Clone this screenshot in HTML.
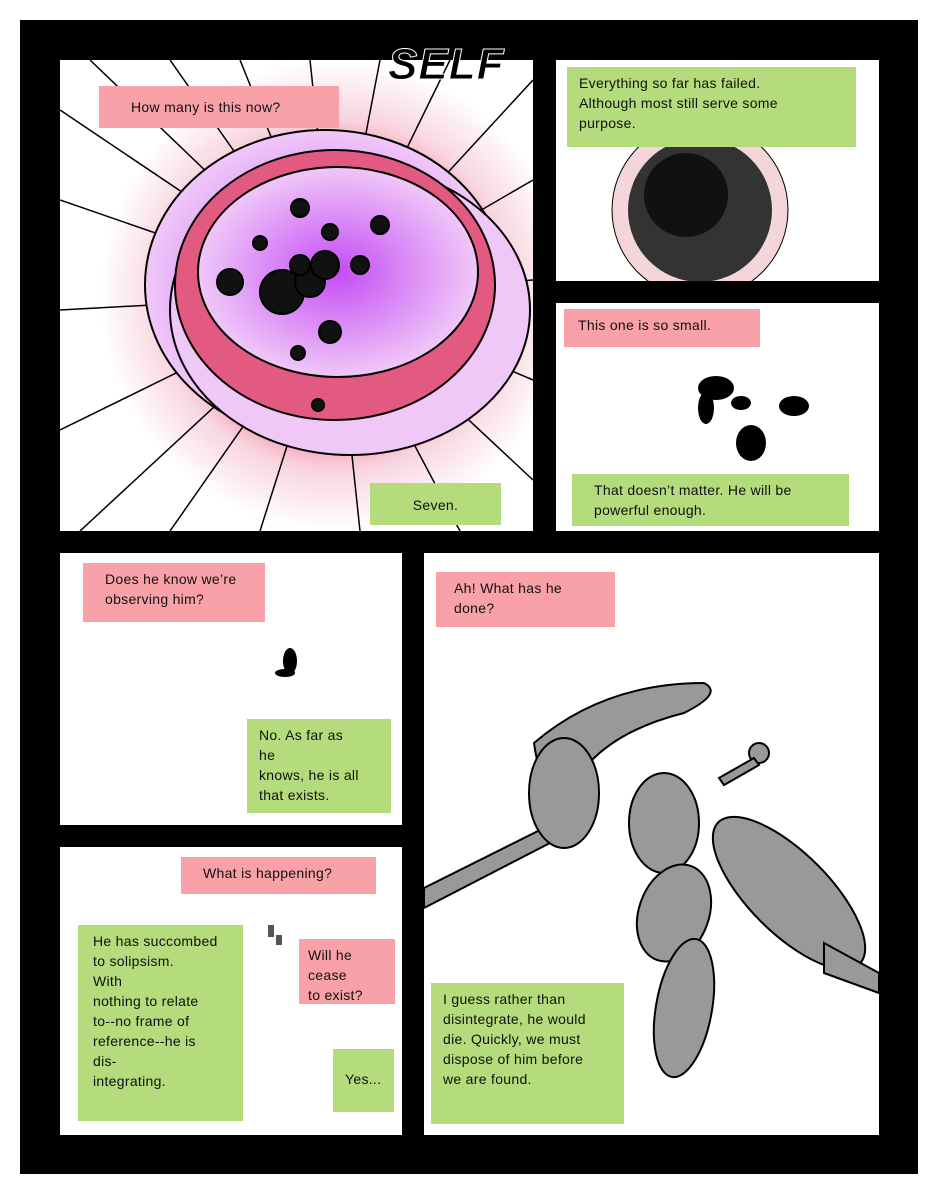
<!DOCTYPE html>
<html><head><meta charset="utf-8"><style>
body{margin:0;width:940px;height:1196px;background:#fff;position:relative;overflow:hidden;font-family:"Liberation Sans",sans-serif}
.frame{position:absolute;left:20px;top:20px;width:898px;height:1154px;background:#000}
.p{position:absolute;background:#fff;overflow:hidden}
.c{position:absolute;font-size:14px;line-height:20px;color:#111;padding:6px 12px;box-sizing:border-box;white-space:nowrap;letter-spacing:0.3px}
.pk{background:#f9a1a9}.gr{background:#b4db7c}
</style></head><body>
<div class="frame"></div>
<div class="p" style="left:60px;top:60px;width:473px;height:471px">
<svg width="473" height="471">
<defs><radialGradient id="g" cx="50%" cy="50%" r="50%">
<stop offset="0" stop-color="#d44cf0"/><stop offset="0.45" stop-color="#e06ae8"/><stop offset="0.6" stop-color="#e8507a"/><stop offset="0.75" stop-color="#f4b8c8"/><stop offset="1" stop-color="#fff"/></radialGradient>
<radialGradient id="g2" cx="50%" cy="50%" r="50%"><stop offset="0" stop-color="#c44cf4"/><stop offset="1" stop-color="#f0c8f8"/></radialGradient></defs>
<circle cx="275" cy="235" r="235" fill="url(#g)" opacity="0.6"/>
<g stroke="#000" stroke-width="1.5">
<line x1="275" y1="235" x2="30" y2="0"/><line x1="275" y1="235" x2="110" y2="0"/><line x1="275" y1="235" x2="180" y2="0"/><line x1="275" y1="235" x2="250" y2="0"/><line x1="275" y1="235" x2="320" y2="0"/><line x1="275" y1="235" x2="390" y2="0"/><line x1="275" y1="235" x2="473" y2="20"/><line x1="275" y1="235" x2="473" y2="120"/><line x1="275" y1="235" x2="473" y2="220"/><line x1="275" y1="235" x2="473" y2="320"/><line x1="275" y1="235" x2="473" y2="420"/><line x1="275" y1="235" x2="400" y2="471"/><line x1="275" y1="235" x2="300" y2="471"/><line x1="275" y1="235" x2="200" y2="471"/><line x1="275" y1="235" x2="110" y2="471"/><line x1="275" y1="235" x2="20" y2="471"/><line x1="275" y1="235" x2="0" y2="370"/><line x1="275" y1="235" x2="0" y2="250"/><line x1="275" y1="235" x2="0" y2="140"/><line x1="275" y1="235" x2="0" y2="50"/></g>
<ellipse cx="265" cy="225" rx="180" ry="155" fill="url(#g2)" stroke="#000" stroke-width="2"/>
<ellipse cx="290" cy="250" rx="180" ry="145" fill="#f0c8f8" stroke="#000" stroke-width="2"/>
<ellipse cx="275" cy="225" rx="160" ry="135" fill="#e25a82" stroke="#000" stroke-width="2"/>
<ellipse cx="278" cy="212" rx="140" ry="105" fill="url(#g2)" stroke="#000" stroke-width="2"/>
<g fill="#111" stroke="#000" stroke-width="2">
<circle cx="222" cy="232" r="22"/><circle cx="250" cy="222" r="15"/><circle cx="265" cy="205" r="14"/><circle cx="240" cy="205" r="10"/><circle cx="170" cy="222" r="13"/><circle cx="240" cy="148" r="9"/><circle cx="270" cy="172" r="8"/><circle cx="320" cy="165" r="9"/><circle cx="300" cy="205" r="9"/><circle cx="270" cy="272" r="11"/><circle cx="238" cy="293" r="7"/><circle cx="200" cy="183" r="7"/><circle cx="258" cy="345" r="6"/></g>
</svg>
<div class="c pk" style="left:39px;top:26px;width:240px;height:42px;padding-left:32px;padding-top:11px">How many is this now?</div>
<div class="c gr" style="left:310px;top:423px;width:131px;height:42px;text-align:center;padding-top:12px">Seven.</div>
</div>
<div style="position:absolute;left:388px;top:40px;font:italic 900 44px 'Liberation Sans',sans-serif;letter-spacing:1px;color:#000;-webkit-text-stroke:1px #fff">SELF</div>
<div class="p" style="left:556px;top:60px;width:323px;height:221px">
<svg width="323" height="221"><circle cx="144" cy="150" r="88" fill="#f4d6da" stroke="#000"/><circle cx="144" cy="150" r="72" fill="#333"/><circle cx="130" cy="135" r="42" fill="#111"/></svg>
<div class="c gr" style="left:11px;top:7px;width:289px;height:80px">Everything so far has failed.<br>Although most still serve some<br>purpose.</div></div>
<div class="p" style="left:556px;top:303px;width:323px;height:228px">
<svg width="323" height="228"><g fill="#000"><ellipse cx="160" cy="85" rx="18" ry="12"/><ellipse cx="150" cy="105" rx="8" ry="16"/><ellipse cx="185" cy="100" rx="10" ry="7"/><ellipse cx="238" cy="103" rx="15" ry="10"/><ellipse cx="195" cy="140" rx="15" ry="18"/></g></svg>
<div class="c pk" style="left:8px;top:6px;width:196px;height:38px;padding-left:14px">This one is so small.</div>
<div class="c gr" style="left:16px;top:171px;width:277px;height:52px;padding-left:22px">That doesn’t matter. He will be<br>powerful enough.</div></div>
<div class="p" style="left:60px;top:553px;width:342px;height:272px">
<svg width="342" height="272"><g fill="#000"><ellipse cx="230" cy="108" rx="7" ry="13"/><ellipse cx="225" cy="120" rx="10" ry="4"/></g></svg>
<div class="c pk" style="left:23px;top:10px;width:182px;height:59px;padding-left:22px">Does he know we’re<br>observing him?</div>
<div class="c gr" style="left:187px;top:166px;width:144px;height:94px">No. As far as<br>he<br>knows, he is all<br>that exists.</div></div>
<div class="p" style="left:424px;top:553px;width:455px;height:582px">
<svg width="455" height="582"><g fill="#999" stroke="#000" stroke-width="2">
<polygon points="0,335 150,260 155,275 0,355"/>
<path d="M110 190 Q180 130 280 130 Q300 140 260 160 Q180 180 150 230 Q120 260 110 190Z"/>
<ellipse cx="140" cy="240" rx="35" ry="55"/>
<ellipse cx="240" cy="270" rx="35" ry="50"/>
<ellipse cx="250" cy="360" rx="50" ry="35" transform="rotate(-70 250 360)"/>
<ellipse cx="365" cy="340" rx="100" ry="40" transform="rotate(45 365 340)"/>
<ellipse cx="260" cy="455" rx="28" ry="70" transform="rotate(10 260 455)"/>
<circle cx="335" cy="200" r="10"/>
<polygon points="330,205 295,225 300,232 335,212"/>
<polygon points="400,390 455,420 455,440 400,420"/></g></svg>
<div class="c pk" style="left:12px;top:19px;width:179px;height:55px;padding-left:18px">Ah! What has he<br>done?</div>
<div class="c gr" style="left:7px;top:430px;width:193px;height:141px">I guess rather than<br>disintegrate, he would<br>die. Quickly, we must<br>dispose of him before<br>we are found.</div></div>
<div class="p" style="left:60px;top:847px;width:342px;height:288px">
<svg width="342" height="288"><g fill="#555"><rect x="208" y="78" width="6" height="12"/><rect x="216" y="88" width="6" height="10"/></g></svg>
<div class="c pk" style="left:121px;top:10px;width:195px;height:37px;padding-left:22px">What is happening?</div>
<div class="c gr" style="left:18px;top:78px;width:165px;height:196px;padding-left:15px">He has succombed<br>to solipsism.<br>With<br>nothing to relate<br>to--no frame of<br>reference--he is<br>dis-<br>integrating.</div>
<div class="c pk" style="left:239px;top:92px;width:96px;height:65px;padding-left:9px">Will he<br>cease<br>to exist?</div>
<div class="c gr" style="left:273px;top:202px;width:61px;height:63px;padding-top:20px">Yes...</div></div>
</body></html>
